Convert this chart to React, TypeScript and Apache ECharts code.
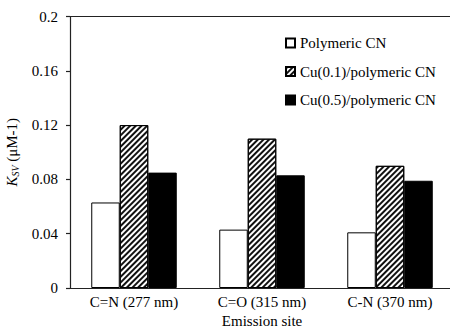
import React, { useEffect, useRef } from "react";
import * as echarts from "echarts";

const categories = ["C=N (277 nm)", "C=O (315 nm)", "C-N (370 nm)"];
const seriesNames = ["Polymeric CN", "Cu(0.1)/polymeric CN", "Cu(0.5)/polymeric CN"];
const polymericCN = [0.063, 0.043, 0.041];
const cu01 = [0.12, 0.11, 0.09];
const cu05 = [0.085, 0.083, 0.079];
const yTicks = [0, 0.04, 0.08, 0.12, 0.16, 0.2];

const FONT = "Liberation Serif";
const FS = 15;

export default function App() {
  const ref = useRef<HTMLDivElement>(null);

  useEffect(() => {
    if (!ref.current) return;
    const chart = echarts.init(ref.current, null, { renderer: "svg" });
    const axisColor = "#222";

    const barBase = {
      type: "bar" as const,
      barWidth: 28.5,
      barGap: "0%",
    };

    chart.setOption({
      animation: false,
      backgroundColor: "#fff",
      textStyle: { fontFamily: FONT },
      grid: {
        left: 70,
        top: 16.5,
        width: 384,
        height: 271.5,
        containLabel: false,
        outerBoundsMode: "none",
      },
      legend: {
        orient: "vertical",
        left: 280,
        top: 30,
        itemWidth: 9,
        itemHeight: 9,
        itemGap: 12.5,
        icon: "rect",
        textStyle: { fontFamily: FONT, fontSize: FS, color: "#000", lineHeight: 16 },
        data: seriesNames,
      },
      xAxis: [
        {
          type: "category",
          data: categories,
          axisLine: { lineStyle: { color: axisColor, width: 1.2 } },
          axisTick: { show: false },
          axisLabel: { fontFamily: FONT, fontSize: FS, color: "#000", margin: 6 },
          name: "Emission site",
          nameLocation: "middle",
          nameGap: 16,
          nameTextStyle: { fontFamily: FONT, fontSize: FS, color: "#000" },
        },
        {
          type: "category",
          data: categories,
          position: "top",
          axisLine: { show: true, lineStyle: { color: axisColor, width: 1.2 } },
          axisTick: { show: false },
          axisLabel: { show: false },
        },
      ],
      yAxis: {
        type: "value",
        min: 0,
        max: 0.2,
        interval: 0.04,
        axisLine: { show: true, lineStyle: { color: axisColor, width: 1.2 } },
        axisTick: { show: true, length: 4, lineStyle: { color: axisColor, width: 1.2 } },
        splitLine: { show: false },
        axisLabel: {
          fontFamily: FONT,
          fontSize: FS,
          color: "#000",
          margin: 12,
          formatter: (v: number) => {
            const t = yTicks.find((y) => Math.abs(y - v) < 1e-9);
            return t === undefined ? "" : String(t);
          },
        },
        name: "{k|K}{sub|SV}{u| (μM-1)}",
        nameLocation: "middle",
        nameGap: 48,
        nameTextStyle: {
          fontFamily: FONT,
          color: "#000",
          rich: {
            k: { fontFamily: FONT, fontSize: FS, fontStyle: "italic", color: "#000", lineHeight: 18, verticalAlign: "middle" },
            sub: { fontFamily: FONT, fontSize: 10, fontStyle: "italic", color: "#000", lineHeight: 18, verticalAlign: "bottom", padding: [6, 0, 0, 0] },
            u: { fontFamily: FONT, fontSize: FS, color: "#000", lineHeight: 18, verticalAlign: "middle" },
          },
        },
      },
      series: [
        {
          ...barBase,
          name: seriesNames[0],
          data: polymericCN,
          itemStyle: { color: "#fff", borderColor: "#000", borderWidth: 1 },
        },
        {
          ...barBase,
          name: seriesNames[1],
          data: cu01,
          itemStyle: {
            color: "#fff",
            borderColor: "#000",
            borderWidth: 1,
            decal: {
              symbol: "rect",
              symbolSize: 1,
              color: "#111",
              backgroundColor: "#fff",
              dashArrayX: [1, 0],
              dashArrayY: [1.3, 1.6],
              rotation: -Math.PI / 4,
            },
          },
        },
        {
          ...barBase,
          name: seriesNames[2],
          data: cu05,
          itemStyle: { color: "#000", borderColor: "#000", borderWidth: 1 },
        },
      ],
    });

    return () => chart.dispose();
  }, []);

  return (
    <div
      ref={ref}
      style={{ position: "fixed", left: 0, top: 0, width: 450, height: 333 }}
    />
  );
}
